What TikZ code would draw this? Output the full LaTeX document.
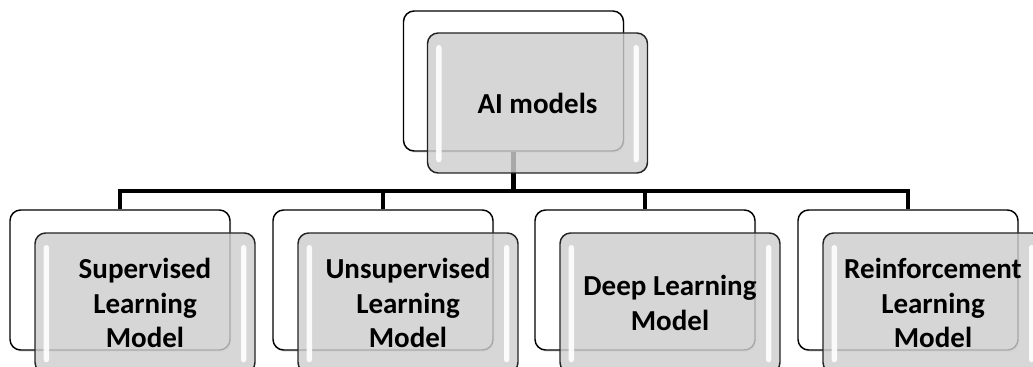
\documentclass[tikz,border=0pt]{standalone}
\usepackage{fontspec}
\setmainfont{Carlito}
\usepackage{tikz}
\usetikzlibrary{positioning, calc, shadows}
\definecolor{glossgray}{RGB}{206,206,206}
\definecolor{edgegray}{RGB}{35,35,35}

\begin{document}
\begin{tikzpicture}[x=0.75pt, y=-0.75pt,
    back/.style={rectangle, draw, line width=1.1pt, rounded corners=8pt, fill=white, minimum width=165pt, minimum height=105pt, inner sep=0pt,
        drop shadow={opacity=0.18, shadow xshift=1pt, shadow yshift=-1.5pt}},
    front/.style={rectangle, draw=edgegray, line width=1.1pt, rounded corners=8pt, fill=glossgray, fill opacity=0.82, text opacity=1,
        minimum width=165pt, minimum height=105pt, inner sep=0pt, align=center,
        font=\fontsize{21.75}{26}\selectfont\bfseries,
        path picture={
            \fill[white, fill opacity=0.9, rounded corners=2pt]
                ([xshift=6.5pt, yshift=-9pt]path picture bounding box.north west) rectangle ([xshift=10.5pt, yshift=8pt]path picture bounding box.south west);
            \fill[white, fill opacity=0.9, rounded corners=2pt]
                ([xshift=-6.5pt, yshift=-9pt]path picture bounding box.north east) rectangle ([xshift=-10.5pt, yshift=8pt]path picture bounding box.south east);
        }},
    conn/.style={line width=3.4pt, black},
]
\useasboundingbox (0,0) rectangle (1033,367);
\clip (0,0) rectangle (1033,367);

\node[back] (aiback) at (513.5,81) {};
\node[back] (supback) at (120,280) {};
\node[back] (unsback) at (383,280) {};
\node[back] (deepback) at (645,280) {};
\node[back] (reinback) at (908,280) {};

\coordinate (bus) at (0,191);
\draw[conn] (aiback.south) -- (aiback.south |- bus);
\foreach \b in {supback,unsback,deepback,reinback}
    \draw[conn] (aiback.south |- bus) -| (\b.north);

\node[front] (ai) at (537.5,103) {AI models};
\node[front] (sup) at (145,303) {Supervised\\Learning\\Model};
\node[front] (uns) at (408,303) {Unsupervised\\Learning\\Model};
\node[front] (deep) at (670,303) {Deep Learning\\Model};
\node[front] (rein) at (933,303) {Reinforcement\\Learning\\Model};
\end{tikzpicture}
\end{document}
